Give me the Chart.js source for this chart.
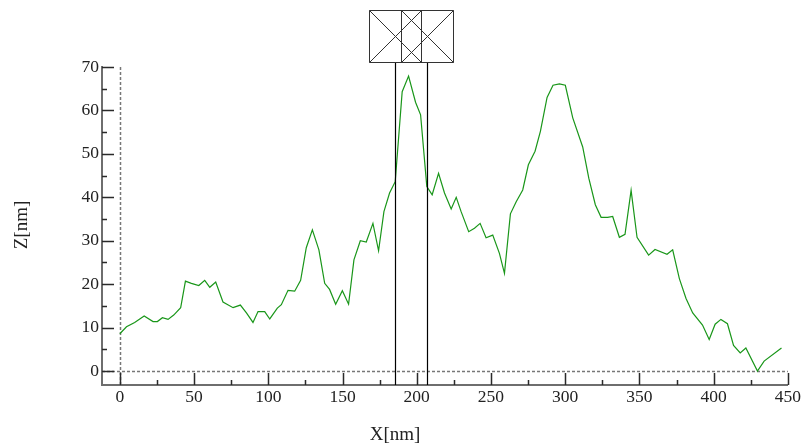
<!DOCTYPE html>
<html>
<head>
<meta charset="utf-8">
<script src="https://cdn.jsdelivr.net/npm/chart.js@4.4.1/dist/chart.umd.min.js"></script>
<style>
html,body{margin:0;padding:0;background:#fff;}
canvas{display:block;}
</style>
</head>
<body>
<canvas id="c" width="803" height="446" style="width:803px;height:446px"></canvas>
<script>
const positionsNm = [0,4.5,10,16.4,22.4,25.3,28.7,32.5,36.3,41,44.2,48.2,53.2,57.2,60.6,64.6,69.5,76.3,81.2,85.3,89.7,93.1,97.6,101,106.1,108.8,113.3,117.8,121.8,125.6,129.7,134.1,138,141.3,145.4,149.9,154.1,157.7,162,166,170.5,174.3,177.9,181.7,185.5,190.2,194.5,199.2,202.6,206.8,210.4,214.7,218.7,223.2,226.6,229.9,235,238.9,242.7,246.7,251.2,255.7,259.1,263.1,267,271.4,275.2,279.7,283.3,287.8,291.8,296.1,300.1,305.1,311.8,315.9,320.3,324.2,328.6,332,336.5,340.3,344.4,348.4,356.2,360.5,368.6,372.4,376.9,381.4,385.9,392.5,397,401,404.9,409.3,413.4,417.9,421.7,429.5,434,445.7];
const heightsNm = [8.6,10.2,11.2,12.7,11.4,11.4,12.3,11.9,12.9,14.6,20.7,20.2,19.7,20.9,19.3,20.5,15.9,14.6,15.2,13.4,11.2,13.7,13.7,12.0,14.5,15.3,18.6,18.4,20.9,28.4,32.5,27.9,20.2,18.8,15.4,18.5,15.4,25.6,30,29.7,34,27.7,36.7,41,43.6,64.3,67.9,61.9,59,42.5,40.6,45.5,41,37.3,40,36.7,32.1,32.9,34,30.7,31.3,27.1,22.5,36.2,39,41.7,47.5,50.6,55.2,63,65.8,66.1,65.8,58.3,51.6,44.4,38.3,35.4,35.4,35.6,30.8,31.5,41.6,30.8,26.7,28,26.9,27.9,21.3,16.7,13.4,10.6,7.3,10.8,11.9,10.9,5.9,4.2,5.3,0,2.3,5.3];
const markerPositionsNm = [185.3, 206.8];
const xMajorTicks = [0,50,100,150,200,250,300,350,400,450];
const xMinorTicks = [25,75,125,175,225,275,325,375,425];
const yMajorTicks = [0,10,20,30,40,50,60,70];
const yMinorTicks = [5,15,25,35,45,55,65];
const xTitle = 'X[nm]';
const yTitle = 'Z[nm]';

const points = positionsNm.map((x, i) => ({x: x, y: heightsNm[i]}));
const FONT = "'Liberation Serif', 'Times New Roman', serif";
const AXIS_COLOR = '#6e6e6e';
const TEXT_COLOR = '#222';

const decor = {
  id: 'decor',
  beforeDatasetsDraw(chart) {
    const {ctx, chartArea: a, scales: {x, y}} = chart;
    ctx.save();
    ctx.strokeStyle = '#777';
    ctx.lineWidth = 1.5;
    ctx.setLineDash([3, 2]);
    const x0 = Math.round(x.getPixelForValue(0)) + 0.5;
    const y0 = Math.round(y.getPixelForValue(0)) + 0.5;
    ctx.beginPath();
    ctx.moveTo(x0, a.top); ctx.lineTo(x0, a.bottom);
    ctx.moveTo(a.left, y0); ctx.lineTo(a.right, y0);
    ctx.stroke();
    ctx.restore();
  },
  afterDatasetsDraw(chart) {
    const {ctx, chartArea: a, scales: {x, y}} = chart;
    ctx.save();
    // ticks pointing inward
    ctx.strokeStyle = '#2a2a2a';
    ctx.lineWidth = 1.5;
    ctx.beginPath();
    xMajorTicks.forEach(v => { const px = Math.round(x.getPixelForValue(v)) + 0.5; ctx.moveTo(px, a.bottom); ctx.lineTo(px, a.bottom - 12); });
    xMinorTicks.forEach(v => { const px = Math.round(x.getPixelForValue(v)) + 0.5; ctx.moveTo(px, a.bottom); ctx.lineTo(px, a.bottom - 5); });
    yMajorTicks.forEach(v => { const py = Math.round(y.getPixelForValue(v)) + 0.5; ctx.moveTo(a.left, py); ctx.lineTo(a.left + 12, py); });
    yMinorTicks.forEach(v => { const py = Math.round(y.getPixelForValue(v)) + 0.5; ctx.moveTo(a.left, py); ctx.lineTo(a.left + 5, py); });
    ctx.stroke();

    // cursor lines and markers
    const boxTop = a.top - 57, boxBottom = a.top - 5, half = 26;
    ctx.strokeStyle = '#000';
    ctx.lineWidth = 1.2;
    ctx.beginPath();
    markerPositionsNm.forEach(v => {
      const px = Math.round(x.getPixelForValue(v)) + 0.5;
      ctx.moveTo(px, boxBottom); ctx.lineTo(px, a.bottom);
    });
    ctx.stroke();
    ctx.strokeStyle = '#333';
    ctx.lineWidth = 1;
    markerPositionsNm.forEach(v => {
      const px = Math.round(x.getPixelForValue(v)) + 0.5;
      ctx.beginPath();
      ctx.rect(px - half, boxTop + 0.5, half * 2, boxBottom - boxTop);
      ctx.moveTo(px - half, boxTop + 0.5); ctx.lineTo(px + half, boxBottom + 0.5);
      ctx.moveTo(px + half, boxTop + 0.5); ctx.lineTo(px - half, boxBottom + 0.5);
      ctx.stroke();
    });

    // axis titles
    ctx.fillStyle = TEXT_COLOR;
    ctx.font = '19px ' + FONT;
    ctx.textAlign = 'center';
    ctx.textBaseline = 'middle';
    ctx.fillText(xTitle, 395, 435);
    ctx.translate(22, 225);
    ctx.rotate(-Math.PI / 2);
    ctx.fillText(yTitle, 0, 0);
    ctx.restore();
  }
};

new Chart(document.getElementById('c'), {
  type: 'scatter',
  data: {
    datasets: [{
      data: points,
      showLine: true,
      borderColor: 'rgb(25,150,25)',
      borderWidth: 1.2,
      pointRadius: 0,
      tension: 0,
      fill: false
    }]
  },
  options: {
    responsive: false,
    animation: false,
    devicePixelRatio: 1,
    layout: {padding: {top: 67, right: 14, left: 0, bottom: 0}},
    plugins: {legend: {display: false}, tooltip: {enabled: false}},
    scales: {
      x: {
        type: 'linear', min: -12, max: 450,
        grid: {display: false, drawTicks: false},
        border: {display: true, color: AXIS_COLOR, width: 2},
        ticks: {font: {family: FONT, size: 17.5}, color: TEXT_COLOR, padding: 2, maxRotation: 0, autoSkip: false},
        afterBuildTicks: s => { s.ticks = xMajorTicks.map(v => ({value: v})); },
        afterFit: s => { s.height = 61; }
      },
      y: {
        type: 'linear', min: -3.2, max: 70,
        grid: {display: false, drawTicks: false},
        border: {display: true, color: AXIS_COLOR, width: 2},
        ticks: {font: {family: FONT, size: 17.5}, color: TEXT_COLOR, padding: 3, autoSkip: false},
        afterBuildTicks: s => { s.ticks = yMajorTicks.map(v => ({value: v})); },
        afterFit: s => { s.width = 102; }
      }
    }
  },
  plugins: [decor]
});
</script>
</body>
</html>
